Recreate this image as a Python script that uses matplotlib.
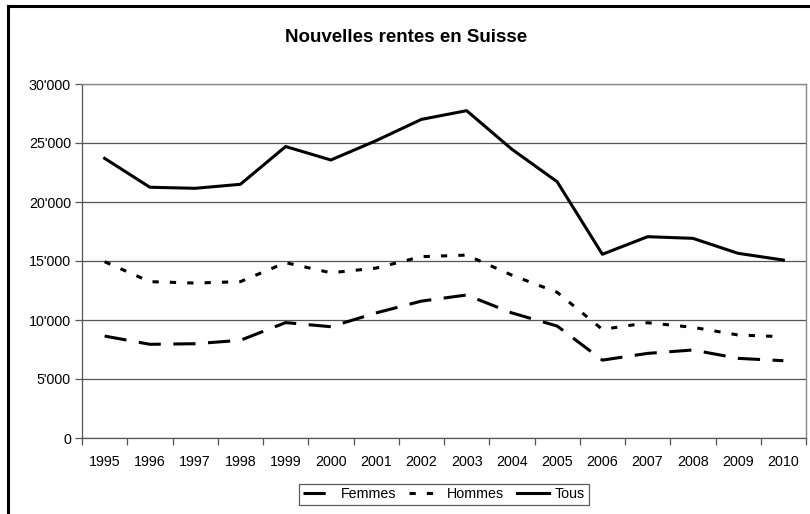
import matplotlib
matplotlib.use("Agg")
import matplotlib.pyplot as plt
from matplotlib.lines import Line2D
import numpy as np

plt.rcParams['font.family'] = ['Liberation Sans', 'DejaVu Sans']
plt.rcParams['lines.scale_dashes'] = False

years = [str(y) for y in range(1995, 2011)]
femmes = [8640, 7940, 7990, 8280, 9780, 9430, 10600, 11600, 12120, 10600, 9490, 6600, 7170, 7460, 6750, 6550]
hommes = [14940, 13250, 13130, 13250, 14860, 14000, 14400, 15370, 15500, 13800, 12350, 9200, 9770, 9380, 8730, 8580]
tous = [23700, 21250, 21160, 21500, 24700, 23560, 25200, 27000, 27740, 24470, 21720, 15570, 17060, 16920, 15650, 15080]
yticks = [0, 5000, 10000, 15000, 20000, 25000, 30000]
ytick_labels = ["0", "5'000", "10'000", "15'000", "20'000", "25'000", "30'000"]
title = "Nouvelles rentes en Suisse"

W, H = 810, 514
fig = plt.figure(figsize=(W / 100, H / 100), dpi=100)
ax = fig.add_axes([82 / W, 1 - 438 / H, (806 - 82) / W, (438 - 84) / H])

x = np.arange(len(years))
lw = 2.2
l1, = ax.plot(x, femmes, color='black', lw=lw, solid_capstyle='butt', dash_capstyle='butt', label='Femmes')
l1.set_dashes((16, 9))
l2, = ax.plot(x, hommes, color='black', lw=lw, dash_capstyle='butt', label='Hommes')
l2.set_dashes((4.5, 8))
l3, = ax.plot(x, tous, color='black', lw=lw, label='Tous')

ax.set_xlim(-0.5, len(years) - 0.5)
ax.set_ylim(0, 30000)
ax.set_yticks(yticks)
ax.set_yticklabels(ytick_labels, fontsize=10.3)
ax.yaxis.grid(True, color='#555555', lw=0.9)
ax.set_axisbelow(True)

ax.set_xticks(x)
ax.set_xticklabels(years, fontsize=10.3)
ax.set_xticks(np.arange(-0.5, len(years)), minor=True)
ax.tick_params(axis='x', which='major', length=0, pad=12)
ax.tick_params(axis='x', which='minor', length=5, color='#555555', width=0.9)
ax.tick_params(axis='y', length=5, color='#555555', width=0.9, pad=3)

for s in ['left', 'bottom']:
    ax.spines[s].set_color('#555555')
    ax.spines[s].set_linewidth(0.9)
for s in ['right', 'top']:
    ax.spines[s].set_color('#888888')
    ax.spines[s].set_linewidth(1.0)

fig.text(406 / W, 1 - 38 / H, title, ha='center', va='center', fontsize=13.5, fontweight='bold')

leg = fig.legend(handles=[l1, l2, l3], loc='center', bbox_to_anchor=(444 / W, 1 - 494.5 / H),
                 ncol=3, fontsize=10.3, frameon=True, fancybox=False, handlelength=2.2,
                 handletextpad=0.45, columnspacing=0.9, borderpad=0.25, borderaxespad=0)
leg.get_frame().set_edgecolor('#333333')
leg.get_frame().set_linewidth(0.9)

# outer chart frame
fig.add_artist(Line2D([8 / W, 8 / W], [0, 1 - 6 / H], transform=fig.transFigure, color='black', lw=2.2))
fig.add_artist(Line2D([8 / W, 1], [1 - 6 / H, 1 - 6 / H], transform=fig.transFigure, color='black', lw=2.2))

fig.savefig('out.png', dpi=100)
